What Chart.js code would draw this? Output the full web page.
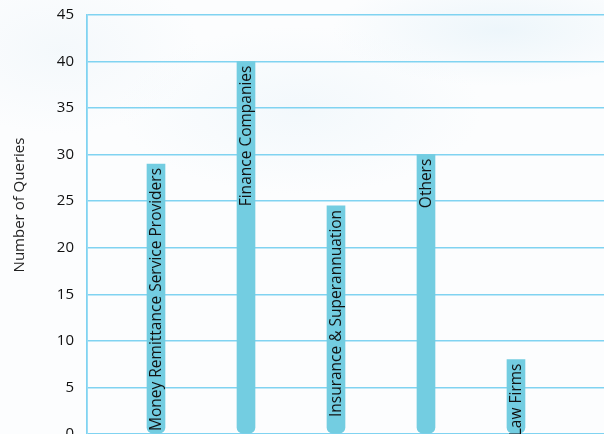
<!DOCTYPE html>
<html>
<head>
<meta charset="utf-8">
<script src="https://cdn.jsdelivr.net/npm/chart.js@4/dist/chart.umd.min.js"></script>
<style>
  html, body { margin: 0; padding: 0; overflow: hidden; }
  body {
    width: 604px; height: 434px;
    background:
      radial-gradient(ellipse 240px 80px at 500px 30px, rgba(225,240,248,0.55), rgba(255,255,255,0) 70%),
      radial-gradient(ellipse 260px 120px at 300px 110px, rgba(234,244,250,0.5), rgba(255,255,255,0) 70%),
      radial-gradient(ellipse 200px 120px at 60px 50px, rgba(236,244,249,0.5), rgba(255,255,255,0) 70%),
      #fcfdfe;
  }
  #wrap { position: relative; width: 604px; height: 470px; }
</style>
</head>
<body>
<div id="wrap"><canvas id="chart"></canvas></div>
<script>
const categories = ['Money Remittance Service Providers', 'Finance Companies', 'Insurance & Superannuation', 'Others', 'Law Firms'];
const queries = [29, 40, 24.5, 30, 8];
const yTicks = [0, 5, 10, 15, 20, 25, 30, 35, 40, 45];

const barBlue = '#73cde1';
const gridBlue = '#80d3f1';

// category names are written up the inside of each bar
const barLabels = {
    id: 'barLabels',
    afterDatasetsDraw(chart) {
        const ctx = chart.ctx;
        const meta = chart.getDatasetMeta(0);
        ctx.save();
        ctx.font = '15.5px "Open Sans"';
        ctx.fillStyle = '#111';
        ctx.textAlign = 'right';
        ctx.textBaseline = 'middle';
        meta.data.forEach((bar, i) => {
            ctx.save();
            ctx.translate(bar.x, bar.y + 4);
            ctx.rotate(-Math.PI / 2);
            ctx.fillText(categories[i], 0, 1);
            ctx.restore();
        });
        ctx.restore();
    }
};

const yTitle = {
    id: 'yTitle',
    afterDraw(chart) {
        const ctx = chart.ctx;
        ctx.save();
        ctx.font = '15px "Open Sans"';
        ctx.fillStyle = '#222';
        ctx.textAlign = 'center';
        ctx.textBaseline = 'middle';
        ctx.translate(20, 205);
        ctx.rotate(-Math.PI / 2);
        ctx.fillText('Number of Queries', 0, 0);
        ctx.restore();
    }
};

new Chart(document.getElementById('chart'), {
    type: 'bar',
    data: {
        datasets: [{
            data: queries.map((v, i) => ({ x: i + 1, y: v })),
            backgroundColor: barBlue,
            barThickness: 18,
            borderRadius: { topLeft: 0, topRight: 0, bottomLeft: 6, bottomRight: 6 },
            borderSkipped: false
        }]
    },
    options: {
        responsive: true,
        maintainAspectRatio: false,
        animation: false,
        layout: { padding: { top: 15, bottom: 36, left: 0, right: 0 } },
        plugins: { legend: { display: false }, tooltip: { enabled: false } },
        scales: {
            x: {
                type: 'linear',
                display: false,
                offset: false,
                min: 0.2333,
                max: 5.978
            },
            y: {
                min: 0,
                max: 45,
                afterFit(scale) {
                    scale.width = 87;
                    scale.paddingTop = 0;
                    scale.paddingBottom = 0;
                },
                afterBuildTicks(scale) { scale.ticks = yTicks.map(v => ({ value: v })); },
                border: { color: gridBlue, width: 1.8 },
                grid: { color: gridBlue, lineWidth: 1.6, drawTicks: false },
                ticks: {
                    color: '#111',
                    padding: 13,
                    font: { family: 'Open Sans', size: 15 }
                }
            }
        }
    },
    plugins: [barLabels, yTitle]
});
</script>
</body>
</html>
